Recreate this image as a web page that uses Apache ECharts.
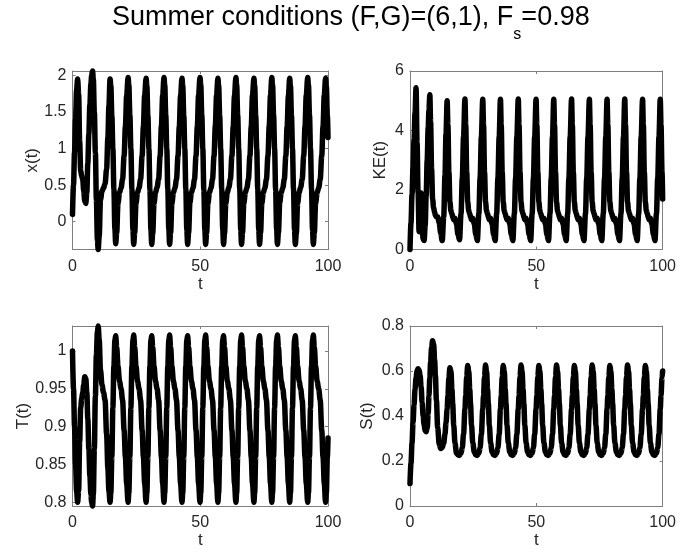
<!DOCTYPE html>
<html><head><meta charset="utf-8">
<script src="https://cdn.jsdelivr.net/npm/echarts@6/dist/echarts.min.js"></script>
<style>html,body{margin:0;padding:0;background:#fff}#c{width:679px;height:553px}</style>
</head><body><div id="c"></div>
<script>
// time samples (model time t)
const time = [
0, 0.4, 0.8, 1.2, 1.6, 2.0, 2.4, 2.8, 3.2, 3.6, 4.0, 4.4, 4.8, 5.2, 5.6, 6.0, 6.4, 6.8, 7.2, 7.5,
7.85, 8.15, 8.55, 8.95, 9.35, 9.75, 10.05, 10.45, 10.95, 11.55, 12.15, 12.75, 13.35, 13.85, 14.25,
14.7, 15.0, 15.4, 15.8, 16.2, 16.6, 16.9, 17.3, 17.8, 18.4, 19.0, 19.6, 20.2, 20.7, 21.2,
21.75, 22.05, 22.45, 22.85, 23.25, 23.65, 23.95, 24.35, 24.85, 25.45, 26.05, 26.65, 27.25, 27.75, 28.25,
28.8, 29.1, 29.5, 29.9, 30.3, 30.7, 31.0, 31.4, 31.9, 32.5, 33.1, 33.7, 34.3, 34.8, 35.3,
35.8, 36.1, 36.5, 36.9, 37.3, 37.7, 38.0, 38.4, 38.9, 39.5, 40.1, 40.7, 41.3, 41.8, 42.3,
42.85, 43.15, 43.55, 43.95, 44.35, 44.75, 45.05, 45.45, 45.95, 46.55, 47.15, 47.75, 48.35, 48.85, 49.35,
49.9, 50.2, 50.6, 51.0, 51.4, 51.8, 52.1, 52.5, 53.0, 53.6, 54.2, 54.8, 55.4, 55.9, 56.4,
56.9, 57.2, 57.6, 58.0, 58.4, 58.8, 59.1, 59.5, 60.0, 60.6, 61.2, 61.8, 62.4, 62.9, 63.4,
63.95, 64.25, 64.65, 65.05, 65.45, 65.85, 66.15, 66.55, 67.05, 67.65, 68.25, 68.85, 69.45, 69.95, 70.45,
71.0, 71.3, 71.7, 72.1, 72.5, 72.9, 73.2, 73.6, 74.1, 74.7, 75.3, 75.9, 76.5, 77.0, 77.5,
78.0, 78.3, 78.7, 79.1, 79.5, 79.9, 80.2, 80.6, 81.1, 81.7, 82.3, 82.9, 83.5, 84.0, 84.5,
85.0, 85.3, 85.7, 86.1, 86.5, 86.9, 87.2, 87.6, 88.1, 88.7, 89.3, 89.9, 90.5, 91.0, 91.5,
92.05, 92.35, 92.75, 93.15, 93.55, 93.95, 94.25, 94.65, 95.15, 95.75, 96.35, 96.95, 97.55, 98.05, 98.55,
99.05, 99.35, 99.75, 100
];
// x(t)
const xVals = [
0.1, 0.5, 0.95, 1.4, 1.8, 1.95, 1.75, 1.1, 0.7, 0.62, 0.58, 0.42, 0.28, 0.25, 0.4, 0.8, 1.2, 1.6, 1.88, 2.0,
2.06, 1.95, 1.5, 0.95, 0.3, -0.25, -0.38, -0.2, 0.3, 0.42, 0.46, 0.52, 0.72, 1.15, 1.58,
1.95, 1.86, 1.45, 1.0, 0.45, -0.1, -0.3, -0.15, 0.25, 0.4, 0.46, 0.58, 0.9, 1.3, 1.72,
1.97, 1.87, 1.46, 1.0, 0.45, -0.11, -0.31, -0.15, 0.25, 0.4, 0.46, 0.58, 0.9, 1.3, 1.73,
1.96, 1.86, 1.45, 1.0, 0.44, -0.11, -0.31, -0.16, 0.25, 0.4, 0.47, 0.58, 0.9, 1.31, 1.73,
1.97, 1.87, 1.46, 1.0, 0.45, -0.1, -0.31, -0.15, 0.25, 0.4, 0.46, 0.58, 0.9, 1.3, 1.72,
1.96, 1.86, 1.45, 1.0, 0.45, -0.11, -0.31, -0.15, 0.26, 0.4, 0.46, 0.58, 0.9, 1.3, 1.73,
1.97, 1.87, 1.46, 1.0, 0.44, -0.11, -0.31, -0.15, 0.25, 0.4, 0.46, 0.58, 0.9, 1.31, 1.73,
1.96, 1.86, 1.45, 1.0, 0.45, -0.1, -0.31, -0.16, 0.25, 0.4, 0.47, 0.58, 0.9, 1.3, 1.72,
1.97, 1.87, 1.46, 1.0, 0.45, -0.11, -0.31, -0.15, 0.25, 0.4, 0.46, 0.58, 0.9, 1.3, 1.73,
1.96, 1.86, 1.45, 1.0, 0.45, -0.11, -0.31, -0.15, 0.25, 0.4, 0.46, 0.58, 0.9, 1.31, 1.73,
1.97, 1.87, 1.46, 1.0, 0.44, -0.1, -0.31, -0.15, 0.26, 0.4, 0.46, 0.58, 0.9, 1.3, 1.72,
1.96, 1.86, 1.45, 1.0, 0.45, -0.11, -0.31, -0.16, 0.25, 0.4, 0.47, 0.58, 0.9, 1.3, 1.73,
1.97, 1.87, 1.46, 1.0, 0.45, -0.11, -0.31, -0.15, 0.25, 0.4, 0.46, 0.58, 0.9, 1.3, 1.73,
1.96, 1.85, 1.45, 1.15
];
// KE(t)
const keVals = [
0, 0.9, 1.85, 2.75, 3.7, 4.6, 5.44, 3.6, 1.9, 0.6, 1.6, 1.9, 0.8, 0.35, 0.3, 0.8, 1.8, 3.0, 4.1, 4.7,
5.2, 4.3, 2.7, 1.7, 1.4, 1.25, 1.15, 1.1, 1.1, 0.9, 0.55, 0.3, 1.1, 2.5, 3.9,
5.0, 4.2, 2.6, 1.6, 1.3, 1.2, 1.1, 1.0, 1.05, 0.85, 0.5, 0.33, 1.2, 2.4, 3.8,
5.06, 4.2, 2.6, 1.6, 1.3, 1.2, 1.1, 1.0, 1.05, 0.85, 0.5, 0.3, 1.2, 2.4, 3.8,
5.05, 4.2, 2.6, 1.6, 1.3, 1.2, 1.1, 1.0, 1.05, 0.85, 0.5, 0.3, 1.2, 2.4, 3.8,
5.05, 4.2, 2.6, 1.6, 1.3, 1.2, 1.1, 1.0, 1.05, 0.85, 0.5, 0.3, 1.2, 2.4, 3.8,
5.06, 4.2, 2.6, 1.6, 1.3, 1.2, 1.1, 1.0, 1.05, 0.85, 0.5, 0.3, 1.2, 2.4, 3.8,
5.05, 4.2, 2.6, 1.6, 1.3, 1.2, 1.1, 1.0, 1.05, 0.85, 0.5, 0.3, 1.2, 2.4, 3.8,
5.05, 4.2, 2.6, 1.6, 1.3, 1.2, 1.1, 1.0, 1.05, 0.85, 0.5, 0.3, 1.2, 2.4, 3.8,
5.06, 4.2, 2.6, 1.6, 1.3, 1.2, 1.1, 1.0, 1.05, 0.85, 0.5, 0.3, 1.2, 2.4, 3.8,
5.05, 4.2, 2.6, 1.6, 1.3, 1.2, 1.1, 1.0, 1.05, 0.85, 0.5, 0.3, 1.2, 2.4, 3.8,
5.05, 4.2, 2.6, 1.6, 1.3, 1.2, 1.1, 1.0, 1.05, 0.85, 0.5, 0.3, 1.2, 2.4, 3.8,
5.06, 4.2, 2.6, 1.6, 1.3, 1.2, 1.1, 1.0, 1.05, 0.85, 0.5, 0.3, 1.2, 2.4, 3.8,
5.05, 4.2, 2.6, 1.6, 1.3, 1.2, 1.1, 1.0, 1.05, 0.85, 0.5, 0.3, 1.2, 2.4, 3.8,
5.05, 4.2, 2.6, 1.7
];
// T(t)
const tVals = [
1.0, 0.95, 0.9, 0.85, 0.815, 0.8, 0.815, 0.88, 0.925, 0.937, 0.945, 0.955, 0.966, 0.964, 0.945, 0.91, 0.87, 0.835, 0.81, 0.8,
0.795, 0.81, 0.87, 0.94, 0.995, 1.025, 1.033, 1.015, 0.975, 0.955, 0.945, 0.935, 0.89, 0.845, 0.815,
0.8, 0.812, 0.86, 0.925, 0.98, 1.014, 1.02, 1.005, 0.98, 0.96, 0.95, 0.935, 0.895, 0.86, 0.825,
0.8, 0.812, 0.86, 0.925, 0.98, 1.014, 1.021, 1.005, 0.98, 0.96, 0.95, 0.935, 0.895, 0.86, 0.825,
0.8, 0.812, 0.86, 0.925, 0.98, 1.014, 1.02, 1.005, 0.98, 0.96, 0.95, 0.935, 0.895, 0.86, 0.825,
0.8, 0.812, 0.86, 0.925, 0.98, 1.014, 1.021, 1.005, 0.98, 0.96, 0.95, 0.935, 0.895, 0.86, 0.825,
0.8, 0.812, 0.86, 0.925, 0.98, 1.014, 1.02, 1.005, 0.98, 0.96, 0.95, 0.935, 0.895, 0.86, 0.825,
0.8, 0.812, 0.86, 0.925, 0.98, 1.014, 1.021, 1.005, 0.98, 0.96, 0.95, 0.935, 0.895, 0.86, 0.825,
0.8, 0.812, 0.86, 0.925, 0.98, 1.014, 1.02, 1.005, 0.98, 0.96, 0.95, 0.935, 0.895, 0.86, 0.825,
0.8, 0.812, 0.86, 0.925, 0.98, 1.014, 1.021, 1.005, 0.98, 0.96, 0.95, 0.935, 0.895, 0.86, 0.825,
0.8, 0.812, 0.86, 0.925, 0.98, 1.014, 1.02, 1.005, 0.98, 0.96, 0.95, 0.935, 0.895, 0.86, 0.825,
0.8, 0.812, 0.86, 0.925, 0.98, 1.014, 1.021, 1.005, 0.98, 0.96, 0.95, 0.935, 0.895, 0.86, 0.825,
0.8, 0.812, 0.86, 0.925, 0.98, 1.014, 1.02, 1.005, 0.98, 0.96, 0.95, 0.935, 0.895, 0.86, 0.825,
0.8, 0.812, 0.86, 0.925, 0.98, 1.014, 1.021, 1.005, 0.98, 0.96, 0.95, 0.935, 0.895, 0.86, 0.825,
0.8, 0.812, 0.86, 0.885
];
// S(t)
const sVals = [
0.1, 0.19, 0.28, 0.37, 0.45, 0.52, 0.57, 0.6, 0.61, 0.605, 0.58, 0.53, 0.46, 0.4, 0.36, 0.335, 0.33, 0.345, 0.41, 0.49,
0.57, 0.64, 0.705, 0.735, 0.72, 0.65, 0.58, 0.47, 0.35, 0.275, 0.256, 0.26, 0.28, 0.32, 0.37,
0.43, 0.49, 0.57, 0.615, 0.6, 0.52, 0.455, 0.36, 0.28, 0.235, 0.227, 0.225, 0.235, 0.26, 0.32,
0.43, 0.49, 0.575, 0.625, 0.6, 0.52, 0.455, 0.36, 0.28, 0.24, 0.227, 0.225, 0.235, 0.26, 0.32,
0.43, 0.49, 0.575, 0.627, 0.6, 0.52, 0.455, 0.36, 0.28, 0.24, 0.227, 0.225, 0.235, 0.26, 0.32,
0.43, 0.49, 0.575, 0.625, 0.6, 0.52, 0.455, 0.36, 0.28, 0.24, 0.227, 0.225, 0.235, 0.26, 0.32,
0.43, 0.49, 0.575, 0.627, 0.6, 0.52, 0.455, 0.36, 0.28, 0.24, 0.227, 0.225, 0.235, 0.26, 0.32,
0.43, 0.49, 0.575, 0.625, 0.6, 0.52, 0.455, 0.36, 0.28, 0.24, 0.227, 0.225, 0.235, 0.26, 0.32,
0.43, 0.49, 0.575, 0.627, 0.6, 0.52, 0.455, 0.36, 0.28, 0.24, 0.227, 0.225, 0.235, 0.26, 0.32,
0.43, 0.49, 0.575, 0.625, 0.6, 0.52, 0.455, 0.36, 0.28, 0.24, 0.227, 0.225, 0.235, 0.26, 0.32,
0.43, 0.49, 0.575, 0.627, 0.6, 0.52, 0.455, 0.36, 0.28, 0.24, 0.227, 0.225, 0.235, 0.26, 0.32,
0.43, 0.49, 0.575, 0.625, 0.6, 0.52, 0.455, 0.36, 0.28, 0.24, 0.227, 0.225, 0.235, 0.26, 0.32,
0.43, 0.49, 0.575, 0.627, 0.6, 0.52, 0.455, 0.36, 0.28, 0.24, 0.227, 0.225, 0.235, 0.26, 0.32,
0.43, 0.49, 0.575, 0.625, 0.6, 0.52, 0.455, 0.36, 0.28, 0.24, 0.227, 0.225, 0.235, 0.26, 0.32,
0.43, 0.49, 0.57, 0.6
];
const xTicks = [0, 50, 100];
const yTicksX = [0, 0.5, 1, 1.5, 2];
const yTicksKE = [0, 2, 4, 6];
const yTicksT = [0.8, 0.85, 0.9, 0.95, 1];
const yTicksS = [0, 0.2, 0.4, 0.6, 0.8];
const yNames = ['x(t)', 'KE(t)', 'T(t)', 'S(t)'];
const xName = 't';

const FONT = 'Liberation Sans, Arial, Helvetica, sans-serif';
const TXT = '#262626';
const LINE = '#7f7f7f';

const panels = [
  {grid:{left:72.5, top:71, width:255.5, height:178.5}, vals:xVals, min:-0.38, max:2.06, ticks:yTicksX, nameGap:32},
  {grid:{left:410, top:71, width:254, height:178.5}, vals:keVals, min:0, max:6, ticks:yTicksKE, nameGap:21},
  {grid:{left:72.5, top:326, width:255.5, height:180}, vals:tVals, min:0.795, max:1.033, ticks:yTicksT, nameGap:39},
  {grid:{left:410, top:326, width:254, height:180}, vals:sVals, min:0, max:0.8, ticks:yTicksS, nameGap:34}
];

const grids = [], xAxes = [], yAxes = [], series = [];
panels.forEach((p, i) => {
  grids.push(p.grid);
  const xBase = {gridIndex:i, type:'value', min:0, max:100,
    axisLine:{show:true, onZero:false, lineStyle:{color:LINE, width:1}},
    axisTick:{show:true, inside:true, length:3, customValues:xTicks, lineStyle:{color:LINE}},
    splitLine:{show:false}};
  xAxes.push(Object.assign({}, xBase, {position:'bottom',
    axisLabel:{customValues:xTicks, color:TXT, fontSize:16, fontFamily:FONT, margin:9},
    name:xName, nameLocation:'middle', nameGap:25,
    nameTextStyle:{color:TXT, fontSize:17, fontFamily:FONT}}));
  xAxes.push(Object.assign({}, xBase, {position:'top', axisLabel:{show:false}}));
  const yBase = {gridIndex:i, type:'value', min:p.min, max:p.max,
    axisLine:{show:true, onZero:false, lineStyle:{color:LINE, width:1}},
    axisTick:{show:true, inside:true, length:3, customValues:p.ticks, lineStyle:{color:LINE}},
    splitLine:{show:false}};
  yAxes.push(Object.assign({}, yBase, {position:'left',
    axisLabel:{customValues:p.ticks, color:TXT, fontSize:16, fontFamily:FONT, margin:6},
    name:yNames[i], nameLocation:'middle', nameGap:p.nameGap, nameRotate:90,
    nameTextStyle:{color:TXT, fontSize:17, fontFamily:FONT}}));
  yAxes.push(Object.assign({}, yBase, {position:'right', axisLabel:{show:false}}));
  series.push({type:'line', xAxisIndex:i*2, yAxisIndex:i*2,
    data: time.map((t, k) => [t, p.vals[k]]),
    showSymbol:false, symbol:'none', smooth:0.35, smoothMonotone:'x', clip:false,
    lineStyle:{color:'#000', width:5.5, cap:'round', join:'round'}, z:5});
});

const chart = echarts.init(document.getElementById('c'), null, {renderer:'canvas'});
chart.setOption({
  animation:false,
  backgroundColor:'#fff',
  title:{
    text:'{a|Summer conditions (F,G)=(6,1), F}{s|s}{a|=0.98}',
    left:112, top:4, padding:0,
    textStyle:{fontWeight:'normal', rich:{
      a:{fontSize:27, fontFamily:FONT, fontWeight:'normal', color:'#000', lineHeight:29, verticalAlign:'top'},
      s:{fontSize:16, fontFamily:FONT, fontWeight:'normal', color:'#000', lineHeight:39, verticalAlign:'bottom'}
    }}
  },
  grid:grids, xAxis:xAxes, yAxis:yAxes, series:series
});
</script></body></html>
